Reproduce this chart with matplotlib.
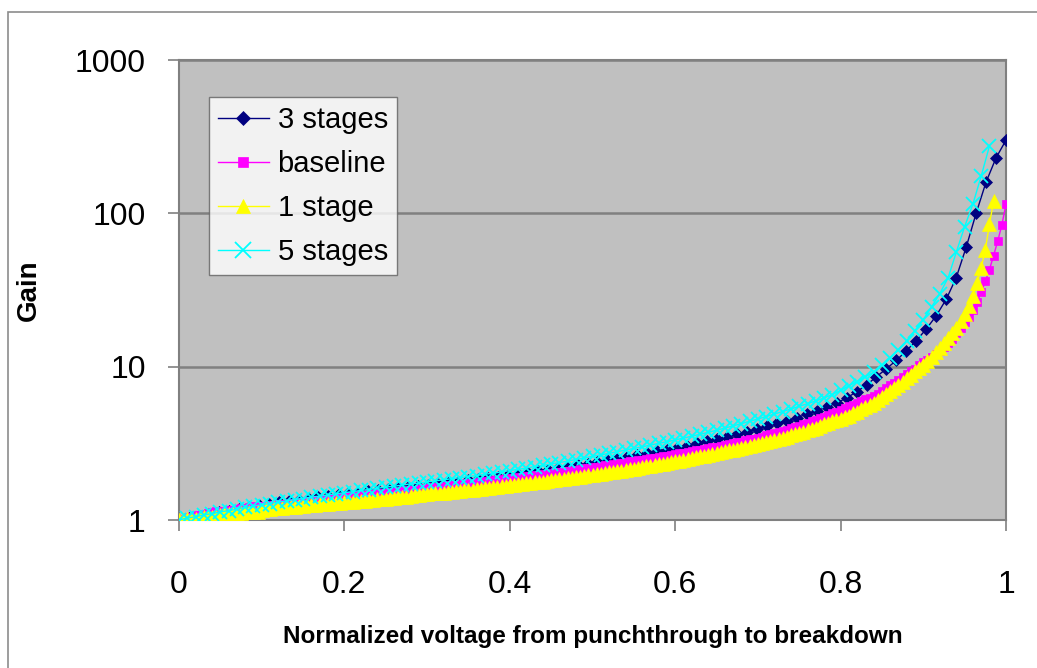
import numpy as np
import matplotlib.pyplot as plt
import matplotlib.patches as mpatches
from matplotlib.lines import Line2D

plt.rcParams['font.family'] = ['Liberation Sans', 'DejaVu Sans']

# Gain vs normalized voltage, one list per device
# 3 stages: 84 voltage steps from 0 to 1
Gain3 = [1.00, 1.03, 1.06, 1.09, 1.12, 1.15, 1.18, 1.22, 1.25, 1.28,
         1.31, 1.33, 1.36, 1.38, 1.41, 1.44, 1.46, 1.49, 1.51, 1.54,
         1.56, 1.59, 1.61, 1.64, 1.66, 1.69, 1.72, 1.75, 1.78, 1.81,
         1.85, 1.88, 1.92, 1.96, 2.00, 2.04, 2.08, 2.13, 2.18, 2.23,
         2.28, 2.33, 2.39, 2.45, 2.51, 2.58, 2.65, 2.72, 2.80, 2.88,
         2.97, 3.06, 3.16, 3.27, 3.38, 3.50, 3.63, 3.77, 3.92, 4.08,
         4.26, 4.45, 4.66, 4.89, 5.15, 5.45, 5.80, 6.25, 6.85, 7.6,
         8.6, 9.7, 11.0, 12.7, 14.8, 17.6, 21.5, 27.5, 38, 60,
         100, 160, 230, 300]
V3 = np.linspace(0, 1, len(Gain3))

# 5 stages: steps of 0.01
Gain5 = [1.00, 1.03, 1.05, 1.08, 1.10, 1.13, 1.15, 1.18, 1.21, 1.23,
         1.26, 1.28, 1.31, 1.33, 1.36, 1.38, 1.41, 1.43, 1.46, 1.48,
         1.51, 1.53, 1.56, 1.58, 1.61, 1.64, 1.66, 1.69, 1.72, 1.74,
         1.77, 1.80, 1.83, 1.86, 1.89, 1.92, 1.95, 1.99, 2.02, 2.06,
         2.10, 2.14, 2.18, 2.23, 2.27, 2.32, 2.37, 2.42, 2.48, 2.54,
         2.60, 2.66, 2.72, 2.79, 2.86, 2.93, 3.00, 3.08, 3.16, 3.24,
         3.33, 3.42, 3.52, 3.62, 3.73, 3.85, 3.98, 4.11, 4.25, 4.40,
         4.56, 4.73, 4.91, 5.10, 5.30, 5.51, 5.74, 5.98, 6.25, 6.58,
         7.0, 7.5, 8.0, 8.6, 9.2, 10.2, 11.4, 12.9, 14.8, 17.2,
         20.3, 24.5, 30, 38, 56, 82, 115, 175, 275]
V5 = np.arange(len(Gain5)) * 0.01

# baseline: steps of 0.005
GainBase = [1.00, 1.02, 1.04, 1.05, 1.07, 1.08, 1.10, 1.11, 1.12, 1.14,
            1.13, 1.14, 1.16, 1.17, 1.18, 1.19, 1.20, 1.21, 1.23, 1.24,
            1.23, 1.24, 1.25, 1.26, 1.27, 1.28, 1.28, 1.29, 1.30, 1.31,
            1.32, 1.33, 1.34, 1.35, 1.36, 1.37, 1.38, 1.39, 1.40, 1.41,
            1.42, 1.43, 1.44, 1.45, 1.46, 1.46, 1.47, 1.48, 1.49, 1.50,
            1.51, 1.52, 1.53, 1.54, 1.55, 1.56, 1.57, 1.58, 1.60, 1.61,
            1.62, 1.63, 1.64, 1.65, 1.67, 1.68, 1.69, 1.70, 1.72, 1.73,
            1.74, 1.75, 1.77, 1.78, 1.79, 1.80, 1.81, 1.83, 1.84, 1.86,
            1.87, 1.89, 1.90, 1.92, 1.93, 1.95, 1.96, 1.98, 2.00, 2.01,
            2.03, 2.05, 2.07, 2.08, 2.10, 2.11, 2.13, 2.15, 2.17, 2.19,
            2.21, 2.23, 2.25, 2.27, 2.29, 2.32, 2.34, 2.36, 2.38, 2.41,
            2.43, 2.45, 2.47, 2.50, 2.52, 2.55, 2.58, 2.61, 2.63, 2.66,
            2.69, 2.72, 2.75, 2.77, 2.81, 2.84, 2.87, 2.91, 2.94, 2.98,
            3.01, 3.05, 3.08, 3.12, 3.16, 3.21, 3.25, 3.30, 3.35, 3.40,
            3.44, 3.50, 3.56, 3.62, 3.68, 3.74, 3.81, 3.89, 3.97, 4.04,
            4.12, 4.21, 4.31, 4.40, 4.50, 4.61, 4.71, 4.83, 4.95, 5.04,
            5.25, 5.39, 5.52, 5.66, 5.81, 5.96, 6.12, 6.29, 6.45, 6.64,
            6.95, 7.25, 7.55, 7.85, 8.2, 8.55, 8.9, 9.3, 9.7, 10.2,
            10.7, 11.1, 11.6, 12.1, 12.7, 13.4, 14.2, 15.1, 16.5, 17.8,
            19.5, 21.0, 23.5, 26.5, 30.5, 36, 43, 53, 66, 84,
            115]
VBase = np.arange(len(GainBase)) * 0.005

# 1 stage: steps of 0.005
Gain1 = [1.00, 1.01, 1.01, 1.02, 1.02, 1.03, 1.04, 1.04, 1.05, 1.05,
         1.08, 1.09, 1.09, 1.10, 1.10, 1.11, 1.12, 1.12, 1.13, 1.13,
         1.16, 1.18, 1.18, 1.19, 1.20, 1.20, 1.21, 1.22, 1.22, 1.23,
         1.24, 1.25, 1.25, 1.26, 1.27, 1.27, 1.28, 1.29, 1.29, 1.30,
         1.31, 1.32, 1.32, 1.33, 1.34, 1.34, 1.35, 1.36, 1.37, 1.37,
         1.38, 1.39, 1.40, 1.41, 1.42, 1.42, 1.44, 1.45, 1.46, 1.47,
         1.48, 1.49, 1.50, 1.51, 1.51, 1.52, 1.53, 1.54, 1.55, 1.56,
         1.57, 1.58, 1.59, 1.60, 1.61, 1.62, 1.63, 1.64, 1.66, 1.67,
         1.68, 1.70, 1.71, 1.72, 1.73, 1.75, 1.76, 1.77, 1.78, 1.80,
         1.81, 1.82, 1.84, 1.85, 1.87, 1.88, 1.90, 1.91, 1.93, 1.96,
         1.98, 1.99, 2.01, 2.03, 2.05, 2.06, 2.08, 2.10, 2.12, 2.14,
         2.16, 2.18, 2.20, 2.24, 2.26, 2.28, 2.31, 2.33, 2.36, 2.38,
         2.41, 2.44, 2.48, 2.51, 2.54, 2.57, 2.60, 2.63, 2.66, 2.69,
         2.72, 2.77, 2.80, 2.84, 2.87, 2.91, 2.95, 3.00, 3.04, 3.08,
         3.12, 3.17, 3.22, 3.28, 3.33, 3.38, 3.44, 3.50, 3.57, 3.63,
         3.69, 3.76, 3.85, 3.93, 4.01, 4.11, 4.20, 4.31, 4.41, 4.52,
         4.55, 4.67, 4.80, 4.95, 5.10, 5.26, 5.44, 5.63, 5.83, 6.05,
         6.30, 6.60, 6.90, 7.25, 7.60, 8.00, 8.40, 8.85, 9.30, 9.80,
         10.3, 10.9, 11.6, 12.4, 13.3, 14.3, 15.4, 16.6, 18.0, 19.8,
         22, 25, 29, 35, 44, 58, 85, 120]
V1 = np.arange(len(Gain1)) * 0.005

Labels = ['3 stages', 'baseline', '1 stage', '5 stages']
Colors = ['#000080', '#FF00FF', '#FFFF00', '#00FFFF']
Markers = ['D', 's', '^', 'x']
MSizes = [6, 5.5, 10, 10.5]
LegSizes = [7, 7, 10, 11]

xticks = [0, 0.2, 0.4, 0.6, 0.8, 1]
xticklabels = ['0', '0.2', '0.4', '0.6', '0.8', '1']
yticks = [1, 10, 100, 1000]
yticklabels = ['1', '10', '100', '1000']

W, H = 1037, 668
fig = plt.figure(figsize=(W / 100, H / 100), dpi=100)

# chart area border
fig.add_artist(mpatches.Rectangle((8 / W, -0.1), 1.1, 1 - 12 / H + 0.1, transform=fig.transFigure,
                                  fill=False, edgecolor='#8c8c8c', linewidth=1.2))

ax = fig.add_axes([179 / W, 1 - 520 / H, (1006 - 179) / W, (520 - 60) / H])
ax.set_facecolor('#C0C0C0')
ax.set_yscale('log')
ax.set_xlim(0, 1)
ax.set_ylim(1, 1000)

Series = [(V3, Gain3), (VBase, GainBase), (V1, Gain1), (V5, Gain5)]
for i, (v, g) in enumerate(Series):
    ax.plot(v, g, color=Colors[i], marker=Markers[i], markersize=MSizes[i],
            markeredgewidth=1.3 if Markers[i] == 'x' else 0.5, linewidth=1.0, zorder=3 + i)

ax.set_xticks(xticks)
ax.set_xticklabels(xticklabels)
ax.set_yticks(yticks)
ax.set_yticklabels(yticklabels)
ax.yaxis.set_minor_locator(plt.NullLocator())
ax.tick_params(axis='both', direction='out', length=8, width=1.2, color='#808080', labelsize=23)
ax.tick_params(axis='y', pad=16)
ax.tick_params(axis='x', pad=28)

ax.grid(axis='y', color='#808080', linewidth=1.8)
ax.set_axisbelow(True)
for s in ax.spines.values():
    s.set_color('#808080')
    s.set_linewidth(1.5)

ax.set_ylabel('Gain', fontsize=20, fontweight='bold')
ax.yaxis.set_label_coords((42 - 179) / 827, 0.5)
ax.set_xlabel('Normalized voltage from punchthrough to breakdown', fontsize=17.5, fontweight='bold')
ax.xaxis.label.set_va('center')
ax.xaxis.set_label_coords(0.5, (520 - 637) / 460)

Handles = [Line2D([], [], color=Colors[i], marker=Markers[i], markersize=LegSizes[i],
                  markeredgewidth=1.3 if Markers[i] == 'x' else 0.5, linewidth=1.0)
           for i in range(4)]
leg = ax.legend(handles=Handles, labels=Labels, loc='upper left',
                bbox_to_anchor=((209 - 179) / 827, (520 - 97) / 460), borderaxespad=0,
                fontsize=21, frameon=True, fancybox=False, edgecolor='#606060',
                handlelength=1.75, handletextpad=0.3, borderpad=0.3, labelspacing=0.55)
leg.get_frame().set_linewidth(1.0)
leg.set_zorder(10)

fig.savefig('out.png', dpi=100)
